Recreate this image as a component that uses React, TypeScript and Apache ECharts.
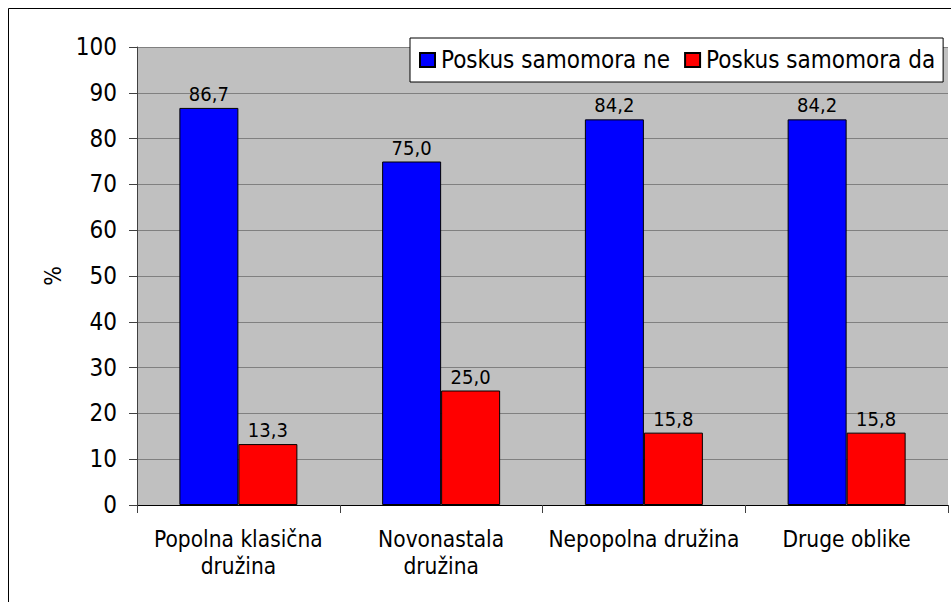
import React, { useEffect, useRef } from "react";
import * as echarts from "echarts";

const categories = ["Popolna klasična\ndružina", "Novonastala\ndružina", "Nepopolna družina", "Druge oblike"];
const seriesNames = ["Poskus samomora ne", "Poskus samomora da"];
const valuesNe = [86.7, 75.0, 84.2, 84.2];
const valuesDa = [13.3, 25.0, 15.8, 15.8];

const FONT = "'DejaVu Sans Condensed', 'Liberation Sans', sans-serif";

export default function App() {
  const ref = useRef<HTMLDivElement>(null);
  useEffect(() => {
    document.body.style.margin = "0";
    const chart = echarts.init(ref.current!, null, { renderer: "svg" });
    const label = {
      show: true,
      position: "top" as const,
      distance: 4,
      color: "#000",
      fontSize: 20,
      fontFamily: FONT,
      formatter: (p: any) => Number(p.value).toFixed(1).replace(".", ","),
    };
    chart.setOption({
      animation: false,
      textStyle: { fontFamily: FONT, color: "#000" },
      graphic: [
        {
          type: "rect",
          shape: { x: 8.5, y: 8.5, width: 1200, height: 1200 },
          style: { fill: "none", stroke: "#000", lineWidth: 1 },
          z: 0,
          silent: true,
        },
      ],
      grid: {
        left: 137,
        top: 47,
        right: 3,
        bottom: 97,
        show: true,
        backgroundColor: "#C0C0C0",
        borderWidth: 0,
      },
      legend: {
        left: 410,
        top: 38,
        padding: [10, 8, 10, 9],
        itemGap: 14,
        itemWidth: 15,
        itemHeight: 14,
        icon: "rect",
        backgroundColor: "#fff",
        borderColor: "#000",
        borderWidth: 1,
        textStyle: { fontSize: 24, fontFamily: FONT, color: "#000", padding: [0, 0, 0, 1] },
        data: seriesNames,
      },
      xAxis: {
        type: "category",
        data: categories,
        axisLine: { lineStyle: { color: "#000", width: 1 } },
        axisTick: { show: true, length: 8, lineStyle: { color: "#404040" } },
        axisLabel: { fontSize: 22.5, lineHeight: 27, margin: 20, color: "#000", fontFamily: FONT, interval: 0 },
      },
      yAxis: {
        type: "value",
        min: 0,
        max: 100,
        interval: 10,
        name: "%",
        nameLocation: "middle",
        nameGap: 72,
        nameRotate: 90,
        nameTextStyle: { fontSize: 23, color: "#000", fontFamily: FONT },
        axisLine: { show: true, lineStyle: { color: "#404040", width: 1 } },
        axisTick: { show: true, length: 8, lineStyle: { color: "#404040" } },
        axisLabel: { fontSize: 24, margin: 20, color: "#000", fontFamily: FONT },
        splitLine: { show: true, lineStyle: { color: "#808080", width: 1 } },
      },
      series: [
        {
          name: seriesNames[0],
          type: "bar",
          data: valuesNe,
          barWidth: 59,
          barGap: "0%",
          itemStyle: { color: "#0000FF", borderColor: "#000", borderWidth: 1 },
          label,
        },
        {
          name: seriesNames[1],
          type: "bar",
          data: valuesDa,
          barWidth: 59,
          barGap: "0%",
          itemStyle: { color: "#FF0000", borderColor: "#000", borderWidth: 1 },
          label,
        },
      ],
    });
    return () => chart.dispose();
  }, []);
  return <div ref={ref} style={{ width: 951, height: 602 }} />;
}
